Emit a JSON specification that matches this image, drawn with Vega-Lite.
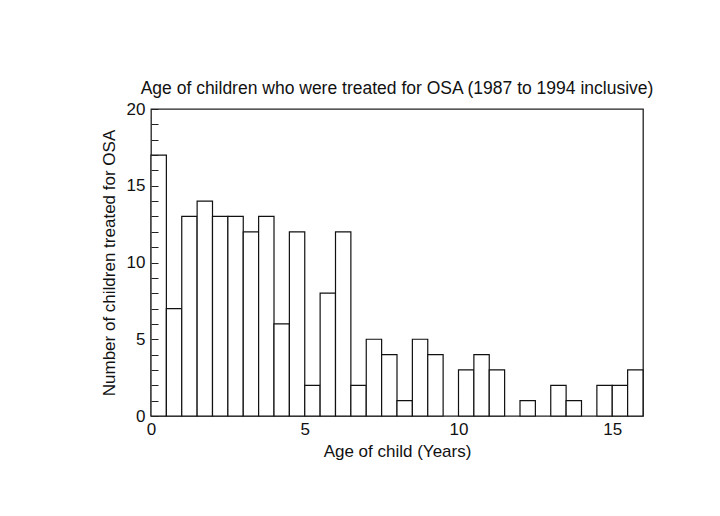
{
  "$schema": "https://vega.github.io/schema/vega-lite/v6.json",
  "autosize": "none",
  "width": 492,
  "height": 307,
  "padding": {"left": 151, "top": 109, "right": 77, "bottom": 100},
  "background": "white",
  "title": {
    "text": "Age of children who were treated for OSA (1987 to 1994 inclusive)",
    "font": "Liberation Sans Narrow, Liberation Sans, Arial",
    "fontSize": 17.5,
    "fontWeight": "normal",
    "color": "#111",
    "anchor": "middle",
    "offset": 3
  },
  "config": {
    "view": {"stroke": "#222", "strokeWidth": 1.3},
    "axis": {"grid": false, "labelFont": "Liberation Sans Narrow, Liberation Sans, Arial", "titleFont": "Liberation Sans Narrow, Liberation Sans, Arial", "labelColor": "#111", "titleColor": "#111", "titleFontWeight": "normal", "domain": false}
  },
  "data": {
    "values": [
      {"start": 0, "end": 0.5, "count": 17},
      {"start": 0.5, "end": 1, "count": 7},
      {"start": 1, "end": 1.5, "count": 13},
      {"start": 1.5, "end": 2, "count": 14},
      {"start": 2, "end": 2.5, "count": 13},
      {"start": 2.5, "end": 3, "count": 13},
      {"start": 3, "end": 3.5, "count": 12},
      {"start": 3.5, "end": 4, "count": 13},
      {"start": 4, "end": 4.5, "count": 6},
      {"start": 4.5, "end": 5, "count": 12},
      {"start": 5, "end": 5.5, "count": 2},
      {"start": 5.5, "end": 6, "count": 8},
      {"start": 6, "end": 6.5, "count": 12},
      {"start": 6.5, "end": 7, "count": 2},
      {"start": 7, "end": 7.5, "count": 5},
      {"start": 7.5, "end": 8, "count": 4},
      {"start": 8, "end": 8.5, "count": 1},
      {"start": 8.5, "end": 9, "count": 5},
      {"start": 9, "end": 9.5, "count": 4},
      {"start": 9.5, "end": 10, "count": 0},
      {"start": 10, "end": 10.5, "count": 3},
      {"start": 10.5, "end": 11, "count": 4},
      {"start": 11, "end": 11.5, "count": 3},
      {"start": 11.5, "end": 12, "count": 0},
      {"start": 12, "end": 12.5, "count": 1},
      {"start": 12.5, "end": 13, "count": 0},
      {"start": 13, "end": 13.5, "count": 2},
      {"start": 13.5, "end": 14, "count": 1},
      {"start": 14, "end": 14.5, "count": 0},
      {"start": 14.5, "end": 15, "count": 2},
      {"start": 15, "end": 15.5, "count": 2},
      {"start": 15.5, "end": 16, "count": 3}
    ]
  },
  "transform": [{"filter": "datum.count > 0"}],
  "mark": {"type": "rect", "fill": "white", "stroke": "#111", "strokeWidth": 1.2},
  "encoding": {
    "x": {
      "field": "start", "type": "quantitative",
      "scale": {"domain": [0, 16], "nice": false, "zero": false},
      "axis": {"values": [0, 5, 10, 15], "ticks": false, "labelPadding": 5, "labelFontSize": 17, "title": "Age of child (Years)", "titleFontSize": 17, "titlePadding": 6, "labelFlush": false}
    },
    "x2": {"field": "end"},
    "y": {
      "field": "count", "type": "quantitative",
      "scale": {"domain": [0, 20], "nice": false},
      "axis": {"values": [0,1,2,3,4,5,6,7,8,9,10,11,12,13,14,15,16,17,18,19,20], "labelExpr": "datum.value % 5 === 0 ? datum.label : ''", "tickSize": -7, "tickColor": "#222", "zindex": 1, "labelPadding": 13, "labelFontSize": 17, "title": "Number of children treated for OSA", "titleFontSize": 17, "titlePadding": 8, "labelFlush": false}
    },
    "y2": {"datum": 0}
  }
}
